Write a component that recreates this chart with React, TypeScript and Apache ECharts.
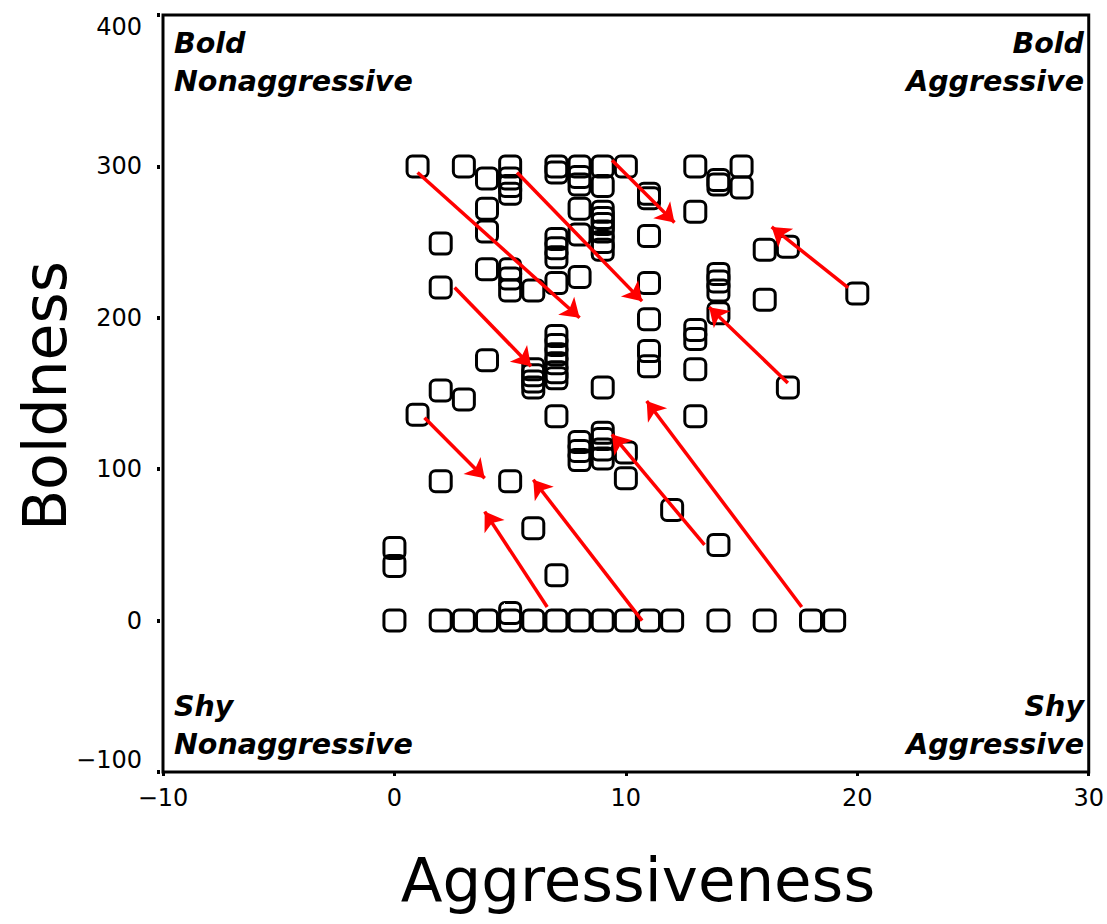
import React, { useEffect, useRef } from "react";
import * as echarts from "echarts";

// Aggressiveness (x) / Boldness (y) observations
const pointX: number[] = [
  0, 0, 0,
  1, 1,
  2, 2, 2, 2, 2,
  3, 3, 3,
  4, 4, 4, 4, 4, 4,
  5, 5, 5, 5, 5, 5, 5, 5, 5, 5,
  6, 6, 6, 6, 6, 6, 6,
  7, 7, 7, 7, 7, 7, 7, 7, 7, 7, 7, 7, 7, 7, 7,
  8, 8, 8, 8, 8, 8, 8, 8, 8, 8,
  9, 9, 9, 9, 9, 9, 9, 9, 9, 9, 9, 9, 9, 9,
  10, 10, 10, 10,
  11, 11, 11, 11, 11, 11, 11, 11,
  12, 12,
  13, 13, 13, 13, 13, 13,
  14, 14, 14, 14, 14, 14, 14, 14,
  15, 15,
  16, 16, 16,
  17, 17,
  18, 19, 20,
];
const pointY: number[] = [
  0, 36, 48,
  300, 136,
  249, 220, 152, 92, 0,
  300, 146, 0,
  292, 272, 257, 232, 172, 0,
  300, 292, 287, 282, 232, 226, 218, 92, 5, 0,
  218, 166, 162, 158, 154, 61, 0,
  300, 296, 252, 246, 240, 223, 188, 182, 176, 170, 164, 160, 135, 30, 0,
  300, 293, 288, 272, 255, 227, 118, 112, 106, 0,
  300, 287, 270, 266, 262, 257, 250, 245, 154, 124, 120, 113, 107, 0,
  300, 111, 94, 0,
  282, 279, 254, 223, 199, 178, 168, 0,
  73, 0,
  300, 270, 192, 186, 166, 135,
  291, 288, 229, 224, 218, 203, 50, 0,
  300, 286,
  245, 212, 0,
  247, 154,
  0, 0, 216,
];

// Arrows: start x, start y, end x, end y
const arrowStartX: number[] = [1, 5.3, 9.4, 19.6, 17, 2.6, 1.3, 6.6, 10.7, 13.4, 17.6];
const arrowStartY: number[] = [296, 296, 304, 220, 157, 220, 134, 9, 0, 50, 9];
const arrowEndX: number[] = [8, 10.7, 12.1, 16.3, 13.6, 5.9, 3.9, 3.9, 6, 9.4, 10.9];
const arrowEndY: number[] = [200, 211, 263, 260, 207, 168, 94, 72, 93, 123, 145];

const xTicks = { min: -10, max: 30, interval: 10 };
const yTicks = { min: -100, max: 400, interval: 100 };

const xTitle = "Aggressiveness";
const yTitle = "Boldness";
const cornerLabels = {
  topLeft: "Bold\nNonaggressive",
  topRight: "Bold\nAggressive",
  bottomLeft: "Shy\nNonaggressive",
  bottomRight: "Shy\nAggressive",
};

const fmt = (v: number) => String(v).replace("-", "\u2212");

export default function App() {
  const ref = useRef<HTMLDivElement>(null);
  useEffect(() => {
    if (!ref.current) return;
    const chart = echarts.init(ref.current, undefined, { renderer: "svg" });
    const font = "DejaVu Sans";
    const cornerStyle = {
      fontFamily: font,
      fontSize: 28.5,
      fontWeight: "bold" as const,
      fontStyle: "italic" as const,
      fill: "#000",
      lineHeight: 38,
    };
    const tickLabel = {
      color: "#000",
      fontFamily: font,
      fontSize: 24,
      formatter: fmt,
      hideOverlap: false,
    };
    chart.setOption({
      animation: false,
      backgroundColor: "#fff",
      textStyle: { fontFamily: font },
      grid: {
        left: 163,
        right: 14,
        top: 15,
        bottom: 152,
        show: true,
        borderColor: "#000",
        borderWidth: 3,
        backgroundColor: "transparent",
        containLabel: false,
      },
      xAxis: {
        type: "value",
        min: xTicks.min,
        max: xTicks.max,
        interval: xTicks.interval,
        position: "bottom",
        axisLine: { show: false, onZero: false },
        axisTick: { show: true, length: 4, lineStyle: { color: "#000", width: 3 } },
        splitLine: { show: false },
        axisLabel: { ...tickLabel, margin: 14 },
      },
      yAxis: {
        type: "value",
        min: yTicks.min,
        max: yTicks.max,
        interval: yTicks.interval,
        position: "left",
        offset: 3,
        axisLine: { show: false, onZero: false },
        axisTick: { show: true, length: 3, lineStyle: { color: "#000", width: 4 } },
        splitLine: { show: false },
        axisLabel: {
          ...tickLabel,
          margin: 18,
          verticalAlignMinLabel: "bottom",
          verticalAlignMaxLabel: "top",
        },
      },
      series: [
        {
          type: "scatter",
          data: pointX.map((x, i) => [x, pointY[i]]),
          symbol: "roundRect",
          symbolSize: 21,
          itemStyle: { color: "rgba(255,255,255,0)", borderColor: "#000", borderWidth: 3, opacity: 1 },
          z: 2,
        },
        {
          type: "lines",
          coordinateSystem: "cartesian2d",
          data: arrowStartX.map((x, i) => ({
            coords: [
              [x, arrowStartY[i]],
              [arrowEndX[i], arrowEndY[i]],
            ],
          })),
          symbol: ["none", "arrow"],
          symbolSize: 18,
          lineStyle: { color: "#ff0000", width: 3.5, opacity: 1, curveness: 0 },
          z: 5,
        },
      ],
      graphic: [
        {
          type: "text",
          x: 45,
          y: 396,
          rotation: Math.PI / 2,
          style: {
            text: yTitle,
            fontFamily: font,
            fontSize: 60,
            fill: "#000",
            align: "center",
            verticalAlign: "middle",
          },
        },
        {
          type: "text",
          x: 638,
          y: 879,
          style: {
            text: xTitle,
            fontFamily: font,
            fontSize: 61,
            fill: "#000",
            align: "center",
            verticalAlign: "middle",
          },
        },
        {
          type: "text",
          x: 174,
          y: 24,
          style: { ...cornerStyle, text: cornerLabels.topLeft, align: "left", verticalAlign: "top" },
        },
        {
          type: "text",
          x: 1084,
          y: 24,
          style: { ...cornerStyle, text: cornerLabels.topRight, align: "right", verticalAlign: "top" },
        },
        {
          type: "text",
          x: 174,
          y: 687,
          style: { ...cornerStyle, text: cornerLabels.bottomLeft, align: "left", verticalAlign: "top" },
        },
        {
          type: "text",
          x: 1084,
          y: 687,
          style: { ...cornerStyle, text: cornerLabels.bottomRight, align: "right", verticalAlign: "top" },
        },
      ],
    });
    return () => chart.dispose();
  }, []);
  return (
    <div
      ref={ref}
      style={{ position: "absolute", left: 0, top: 0, width: 1107, height: 924 }}
    />
  );
}
